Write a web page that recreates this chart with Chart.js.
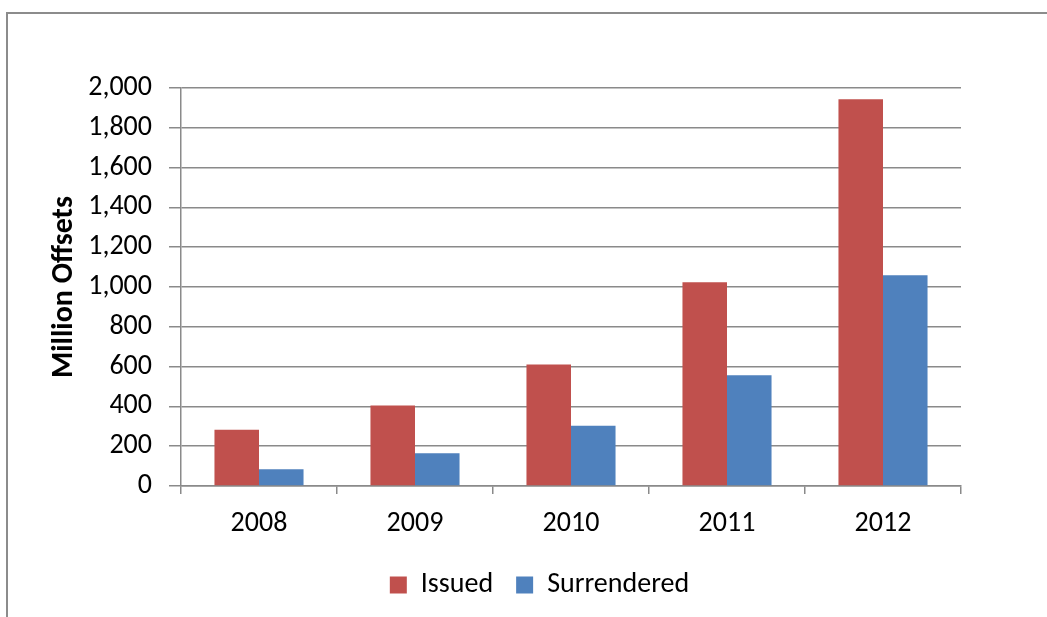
<!DOCTYPE html>
<html>
<head>
<meta charset="utf-8">
<script src="https://cdn.jsdelivr.net/npm/chart.js@4"></script>
<style>
  html, body { margin: 0; padding: 0; background: #fff; overflow: hidden; }
  #frame {
    position: absolute; left: 6px; top: 12px;
    width: 1100px; height: 700px;
    border: 2px solid #8c8c8c; box-sizing: border-box;
  }
  #wrap { position: absolute; left: 0; top: 0; width: 1047px; height: 617px; }
</style>
</head>
<body>
<div id="frame"></div>
<div id="wrap"><canvas id="offsets"></canvas></div>
<script>
// --- Offsets issued vs surrendered, per year ---

const years = ['2008', '2009', '2010', '2011', '2012'];
const issued = [283, 404, 611, 1024, 1943];
const surrendered = [84, 165, 303, 556, 1059];

const FONT = "Carlito, Lato, 'Open Sans', sans-serif";
const GRID = '#8a8a8a';

Chart.defaults.font.family = FONT;
Chart.defaults.color = '#000';

// nudge the legend to the right of the canvas centre
const legendShift = {
    id: 'legendShift',
    afterLayout(chart) {
        const lg = chart.legend;
        if (!lg) return;
        lg.left += 36;
        lg.right += 36;
    }
};

new Chart(document.getElementById('offsets'), {
    type: 'bar',
    data: {
        labels: years,
        datasets: [{
            label: 'Issued',
            data: issued,
            backgroundColor: '#C0504D',
            borderWidth: 0
        }, {
            label: 'Surrendered',
            data: surrendered,
            backgroundColor: '#4F81BD',
            borderWidth: 0
        }]
    },
    plugins: [legendShift],
    options: {
        responsive: true,
        maintainAspectRatio: false,
        animation: false,
        layout: { padding: { left: 46, top: 88, right: 86, bottom: 8 } },
        datasets: { bar: { barPercentage: 1.0, categoryPercentage: 0.571 } },
        plugins: {
            tooltip: { enabled: false },
            legend: {
                position: 'bottom',
                labels: {
                    boxWidth: 17,
                    boxHeight: 17,
                    padding: 23,
                    font: { size: 28 }
                }
            }
        },
        scales: {
            x: {
                afterFit: s => { s.height = 62; },
                grid: {
                    offset: true,
                    drawOnChartArea: false,
                    drawTicks: true,
                    tickLength: 8,
                    color: GRID,
                    lineWidth: 1.5
                },
                border: { color: GRID, width: 1.5 },
                ticks: { padding: 13, font: { size: 28 } }
            },
            y: {
                min: 0,
                max: 2000,
                afterFit: s => { s.width = 135; },
                grid: { color: GRID, lineWidth: 1.5, tickLength: 12 },
                border: { color: GRID, width: 1.5 },
                ticks: {
                    stepSize: 200,
                    padding: 17,
                    font: { size: 28 },
                    callback: v => v.toLocaleString('en-US')
                },
                title: {
                    display: true,
                    text: 'Million Offsets',
                    padding: 0,
                    font: { size: 30, weight: 'bold' }
                }
            }
        }
    }
});
</script>
</body>
</html>
